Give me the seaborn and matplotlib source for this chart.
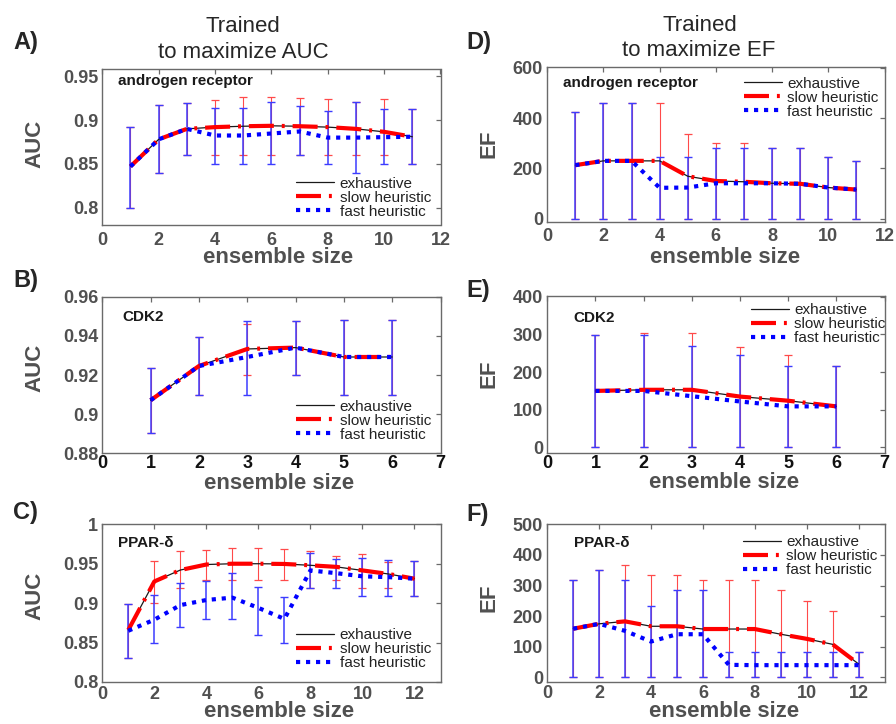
import numpy as np
import pandas as pd
import matplotlib
matplotlib.use("Agg")
import matplotlib.pyplot as plt
import seaborn as sns
from matplotlib.ticker import FuncFormatter, MultipleLocator

# ── DATA ────────────────────────────────────────────────────
# A) trained to maximize AUC, androgen receptor
A_x = [1, 2, 3, 4, 5, 6, 7, 8, 9, 10, 11]
A_exh = [0.847, 0.878, 0.890, 0.892, 0.893, 0.8935, 0.893, 0.892, 0.890, 0.8866, 0.881]
A_slow = [0.847, 0.878, 0.890, 0.892, 0.893, 0.8935, 0.893, 0.892, 0.890, 0.8866, 0.881]
A_fast = [0.847, 0.878, 0.890, 0.8824, 0.8824, 0.8847, 0.887, 0.880, 0.880, 0.8805, 0.881]
A_slow_lo = [0.80, 0.840, 0.86, 0.86, 0.86, 0.86, 0.86, 0.86, 0.86, 0.86, 0.85]
A_slow_hi = [0.892, 0.917, 0.920, 0.923, 0.926, 0.926, 0.925, 0.9247, 0.921, 0.924, 0.9125]
A_fast_lo = [0.80, 0.840, 0.86, 0.85, 0.85, 0.85, 0.86, 0.85, 0.840, 0.85, 0.85]
A_fast_hi = [0.892, 0.917, 0.920, 0.914, 0.914, 0.921, 0.916, 0.911, 0.921, 0.9125, 0.9125]

# B) trained to maximize AUC, CDK2
B_x = [1, 2, 3, 4, 5, 6]
B_exh = [0.9071, 0.9246, 0.9333, 0.9340, 0.9292, 0.9292]
B_slow = [0.9071, 0.9246, 0.9333, 0.9340, 0.9292, 0.9292]
B_fast = [0.9071, 0.9246, 0.9292, 0.9340, 0.9292, 0.9292]
B_slow_lo = [0.8903, 0.910, 0.920, 0.920, 0.910, 0.910]
B_slow_hi = [0.9234, 0.9392, 0.9459, 0.9475, 0.948, 0.948]
B_fast_lo = [0.8903, 0.910, 0.910, 0.920, 0.910, 0.910]
B_fast_hi = [0.9234, 0.9392, 0.9475, 0.9475, 0.948, 0.948]

# C) trained to maximize AUC, PPAR-delta
C_x = [1, 2, 3, 4, 5, 6, 7, 8, 9, 10, 11, 12]
C_exh = [0.866, 0.9275, 0.942, 0.949, 0.950, 0.950, 0.9497, 0.948, 0.946, 0.9415, 0.937, 0.931]
C_slow = [0.866, 0.9275, 0.942, 0.949, 0.950, 0.950, 0.9497, 0.948, 0.946, 0.9415, 0.937, 0.931]
C_fast = [0.865, 0.879, 0.8975, 0.904, 0.907, 0.894, 0.880, 0.9415, 0.938, 0.934, 0.933, 0.931]
C_slow_lo = [0.830, 0.900, 0.919, 0.929, 0.929, 0.929, 0.929, 0.919, 0.9296, 0.919, 0.919, 0.909]
C_slow_hi = [0.8987, 0.953, 0.9657, 0.968, 0.970, 0.970, 0.9687, 0.9657, 0.960, 0.9627, 0.9517, 0.953]
C_fast_lo = [0.830, 0.849, 0.8695, 0.8796, 0.8796, 0.8597, 0.849, 0.919, 0.919, 0.909, 0.909, 0.909]
C_fast_hi = [0.8987, 0.9106, 0.926, 0.9275, 0.938, 0.921, 0.908, 0.9636, 0.956, 0.957, 0.955, 0.953]

# D) trained to maximize EF, androgen receptor
D_x = [1, 2, 3, 4, 5, 6, 7, 8, 9, 10, 11]
D_exh = [213, 230, 230, 230, 169, 150, 147, 141, 139, 124, 116]
D_slow = [213, 230, 230, 230, 169, 150, 147, 141, 139, 124, 116]
D_fast = [213, 230, 230, 123, 124, 141, 141, 141, 139, 124, 116]
D_slow_lo = [0, 0, 0, 0, 0, 0, 0, 0, 0, 0, 0]
D_slow_hi = [425, 461, 461, 461, 336, 302, 302, 282, 282, 246, 230]
D_fast_lo = [0, 0, 0, 0, 0, 0, 0, 0, 0, 0, 0]
D_fast_hi = [425, 461, 461, 246, 246, 282, 282, 282, 282, 246, 230]

# E) trained to maximize EF, CDK2
E_x = [1, 2, 3, 4, 5, 6]
E_exh = [150, 153, 153, 135, 124, 109]
E_slow = [150, 153, 153, 135, 124, 109]
E_fast = [150, 150, 136, 122, 109, 109]
E_slow_lo = [0, 0, 0, 0, 0, 0]
E_slow_hi = [298, 305, 305, 267, 246, 217]
E_fast_lo = [0, 0, 0, 0, 0, 0]
E_fast_hi = [298, 298, 268, 246, 217, 217]

# F) trained to maximize EF, PPAR-delta
F_x = [1, 2, 3, 4, 5, 6, 7, 8, 9, 10, 11, 12]
F_exh = [159, 175, 183, 167, 167, 158, 158, 158, 141, 126, 108, 44]
F_slow = [159, 175, 183, 167, 167, 158, 158, 158, 141, 126, 108, 44]
F_fast = [159, 175, 152, 117, 141, 141, 41, 40, 40, 40, 40, 40]
F_slow_lo = [0, 0, 0, 0, 0, 0, 0, 0, 0, 0, 0, 0]
F_slow_hi = [317, 350, 366, 333, 333, 317, 317, 317, 284, 251, 218, 82]
F_fast_lo = [0, 0, 0, 0, 0, 0, 0, 0, 0, 0, 0, 0]
F_fast_hi = [317, 350, 317, 232, 284, 284, 82, 82, 82, 82, 82, 82]

SERIES = ["exhaustive", "slow heuristic", "fast heuristic"]

# ── STYLE ───────────────────────────────────────────────────
sns.set_style("white")
plt.rcParams["font.family"] = ["Liberation Sans", "DejaVu Sans"]
plt.rcParams["font.weight"] = "bold"   # tick labels are bold, titles/legend reset below
GRAY = "#505050"
SPINE = "#6a6a6a"


def yerr(y, lo, hi):
    y, lo, hi = np.asarray(y, float), np.asarray(lo, float), np.asarray(hi, float)
    return np.vstack([y - lo, hi - y])


def draw_panel(ax, x, exh, slow, fast, slow_lo, slow_hi, fast_lo, fast_hi):
    # red bars a bit thinner so the blue ones on top hide them where they overlap
    ax.errorbar(x, slow, yerr=yerr(slow, slow_lo, slow_hi), fmt="none", ecolor="#ff4a4a",
                elinewidth=0.8, capsize=3, capthick=0.9)
    ax.errorbar(x, fast, yerr=yerr(fast, fast_lo, fast_hi), fmt="none", ecolor="#3c3cff",
                elinewidth=1.1, capsize=3, capthick=1.0)

    df = pd.DataFrame({"x": x, SERIES[0]: exh, SERIES[1]: slow, SERIES[2]: fast})
    sns.lineplot(data=df, x="x", y=SERIES[0], ax=ax, color="#1a1a1a", linewidth=0.9,
                 estimator=None, sort=False, label=SERIES[0])
    sns.lineplot(data=df, x="x", y=SERIES[1], ax=ax, color="red", linewidth=3.0,
                 linestyle=(0, (6, 1.9, 0.7, 1.9)), estimator=None, sort=False,
                 label=SERIES[1])
    sns.lineplot(data=df, x="x", y=SERIES[2], ax=ax, color="blue", linewidth=3.0,
                 linestyle=(0, (1, 1.4)), estimator=None, sort=False, label=SERIES[2])


def style_axes(ax, xlim, xstep, ylim, ystep, ylabel, xtick_color, xpad,
               xlab_pos, ylab_pos, name, name_pos, leg_loc, leg_anchor):
    ax.set_xlim(*xlim)
    ax.set_ylim(*ylim)
    ax.xaxis.set_major_locator(MultipleLocator(xstep))
    ax.yaxis.set_major_locator(MultipleLocator(ystep))
    ax.yaxis.set_major_formatter(FuncFormatter(lambda v, p: f"{v:g}"))
    ax.xaxis.set_major_formatter(FuncFormatter(lambda v, p: f"{v:g}"))
    for sp in ax.spines.values():
        sp.set_visible(True)
        sp.set_color(SPINE)
        sp.set_linewidth(1.0)
    ax.tick_params(axis="both", which="major", direction="in", length=3.5, width=0.9,
                   color=SPINE, top=True, right=True, labelsize=13)
    ax.tick_params(axis="y", pad=3, labelcolor=GRAY)
    ax.tick_params(axis="x", pad=xpad, labelcolor=xtick_color)

    ax.set_xlabel("ensemble size", fontsize=16, fontweight="bold", color=GRAY, va="center")
    ax.xaxis.set_label_coords(*xlab_pos)
    ax.set_ylabel(ylabel, fontsize=16, fontweight="bold", color=GRAY, va="center")
    ax.yaxis.set_label_coords(*ylab_pos)

    ax.text(name_pos[0], name_pos[1], name, transform=ax.transAxes, fontsize=11,
            fontweight="bold", color="#1a1a1a", ha="left", va="center")

    leg = ax.legend(loc=leg_loc, bbox_to_anchor=leg_anchor, frameon=False,
                    prop={"size": 11, "weight": "normal"},
                    handlelength=2.5, handletextpad=0.35, labelspacing=0.0,
                    borderpad=0, borderaxespad=0)
    for t in leg.get_texts():
        t.set_color("#222222")


fig = plt.figure(figsize=(8.96, 7.24), dpi=100)
W, H = 896.0, 724.0
left_col = (102.3, 440.5)
right_col = (547.2, 884.5)
rows = [(69.0, 225.0), (296.7, 453.3), (524.3, 682.0)]
rows_r = [(66.7, 221.8), (296.0, 452.7), (524.3, 682.0)]


def make_ax(col, row):
    x0, x1 = col
    y0, y1 = row
    return fig.add_axes([x0 / W, 1 - y1 / H, (x1 - x0) / W, (y1 - y0) / H])


axA = make_ax(left_col, rows[0])
axB = make_ax(left_col, rows[1])
axC = make_ax(left_col, rows[2])
axD = make_ax(right_col, rows_r[0])
axE = make_ax(right_col, rows_r[1])
axF = make_ax(right_col, rows_r[2])

draw_panel(axA, A_x, A_exh, A_slow, A_fast, A_slow_lo, A_slow_hi, A_fast_lo, A_fast_hi)
draw_panel(axB, B_x, B_exh, B_slow, B_fast, B_slow_lo, B_slow_hi, B_fast_lo, B_fast_hi)
draw_panel(axC, C_x, C_exh, C_slow, C_fast, C_slow_lo, C_slow_hi, C_fast_lo, C_fast_hi)
draw_panel(axD, D_x, D_exh, D_slow, D_fast, D_slow_lo, D_slow_hi, D_fast_lo, D_fast_hi)
draw_panel(axE, E_x, E_exh, E_slow, E_fast, E_slow_lo, E_slow_hi, E_fast_lo, E_fast_hi)
draw_panel(axF, F_x, F_exh, F_slow, F_fast, F_slow_lo, F_slow_hi, F_fast_lo, F_fast_hi)

style_axes(axA, (0, 12), 2, (0.78, 0.9585), 0.05, "AUC", GRAY, 5,
           (0.52, -0.21), (-0.199, 0.52), "androgen receptor", (0.047, 0.925),
           "lower right", (0.972, 0.04))
style_axes(axB, (0, 7), 1, (0.88, 0.96), 0.02, "AUC", "#111111", 1.5,
           (0.523, -0.19), (-0.199, 0.545), "CDK2", (0.06, 0.87),
           "lower right", (0.972, 0.075))
style_axes(axC, (0, 13), 2, (0.8, 1.0), 0.05, "AUC", GRAY, 3,
           (0.523, -0.19), (-0.199, 0.544), "PPAR-δ", (0.047, 0.88),
           "lower right", (0.972, 0.075))
style_axes(axD, (0, 12), 2, (-12, 604), 200, "EF", GRAY, 4.5,
           (0.526, -0.23), (-0.173, 0.5), "androgen receptor", (0.048, 0.893),
           "upper right", (0.983, 0.935))
style_axes(axE, (0, 7), 1, (-14, 402), 100, "EF", "#111111", 1.5,
           (0.524, -0.19), (-0.173, 0.503), "CDK2", (0.077, 0.858),
           "upper right", (1.003, 0.955))
style_axes(axF, (0, 13), 2, (-15, 500), 100, "EF", GRAY, 2.5,
           (0.524, -0.19), (-0.173, 0.535), "PPAR-δ", (0.078, 0.88),
           "upper right", (0.98, 0.93))

# column titles
title_kw = dict(fontsize=16, fontweight="normal", ha="center", va="baseline")
fig.text(243 / W, 1 - 32 / H, "Trained", **title_kw)
fig.text(243 / W, 1 - 58 / H, "to maximize AUC", **title_kw)
fig.text(700 / W, 1 - 31 / H, "Trained", **title_kw)
fig.text(699 / W, 1 - 56 / H, "to maximize EF", **title_kw)

# panel letters
for letter, px, py in [("A)", 13, 43), ("B)", 13, 281), ("C)", 13, 513),
                       ("D)", 466, 43), ("E)", 466, 291), ("F)", 466, 514)]:
    fig.text(px / W, 1 - py / H, letter, fontsize=17, fontweight="bold",
             ha="left", va="center")

fig.savefig("out.png", dpi=100)
